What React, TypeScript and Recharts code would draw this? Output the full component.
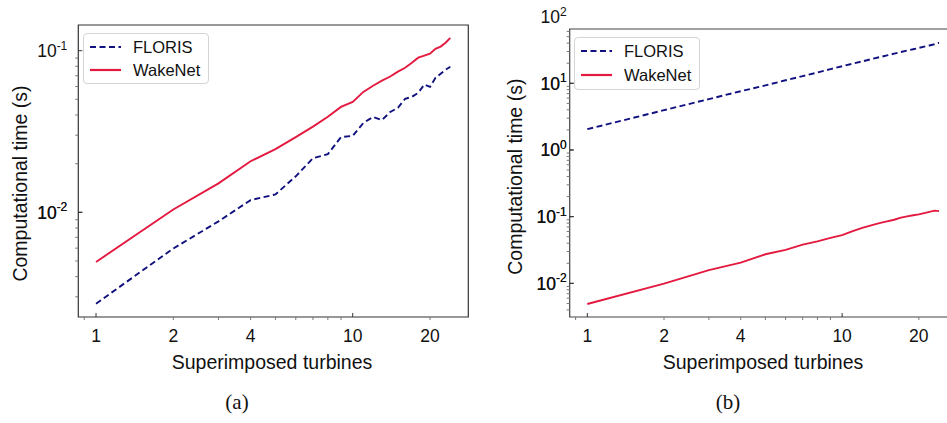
import { LineChart, Line, XAxis, YAxis, ReferenceArea, Legend } from 'recharts'

// number of superimposed turbines
const turbines = [1, 2, 3, 4, 5, 6, 7, 8, 9, 10, 11, 12, 13, 14, 15, 16, 17, 18, 19, 20, 21, 22, 23, 24]

// (a) computational time in seconds
const florisA = [0.00272, 0.00597, 0.00879, 0.0119, 0.0129, 0.0167, 0.0216, 0.0229, 0.0292, 0.0297, 0.0357, 0.0389, 0.0372, 0.0418, 0.0443, 0.0504, 0.0518, 0.0549, 0.0617, 0.0597, 0.0679, 0.072, 0.0762, 0.0795]
const wakenetA = [0.00493, 0.0104, 0.0151, 0.0207, 0.0246, 0.0292, 0.0339, 0.039, 0.0449, 0.0482, 0.0556, 0.0607, 0.0652, 0.0692, 0.0742, 0.0784, 0.0842, 0.0905, 0.0933, 0.0958, 0.1028, 0.106, 0.112, 0.12]

// (b) computational time in seconds
const florisB = [2.05, 3.95, 5.8, 7.6, 9.3, 11.1, 12.8, 14.5, 16.3, 18.0, 19.7, 21.3, 23.0, 24.6, 26.2, 27.8, 29.4, 31.0, 32.4, 33.9, 35.4, 36.9, 38.5, 40.5]
const wakenetB = [0.0049, 0.0099, 0.0158, 0.0205, 0.0273, 0.0318, 0.038, 0.0427, 0.048, 0.053, 0.0608, 0.068, 0.074, 0.08, 0.085, 0.09, 0.097, 0.101, 0.105, 0.108, 0.113, 0.118, 0.123, 0.121]

// ticks
const xLabels = [1, 2, 4, 10, 20]
const xMajor = [1, 10]
const xTicks = [0.9, 1, 2, 3, 4, 5, 6, 7, 8, 9, 10, 20]
const yMajorA = [0.01, 0.1]
const yMajorB = [0.01, 0.1, 1, 10, 100]

const SANS = '"Liberation Sans", Arial, sans-serif'
const SERIF = '"Liberation Serif", "DejaVu Serif", serif'
const FLORIS_COLOR = '#10107f'
const WAKENET_COLOR = '#e3193f'

const minorTicks = (decades: number[], lo: number, hi: number) => {
    const out: number[] = []
    decades.forEach(d => {
        for (let m = 1; m < 10; m++) {
            const v = +(d * m).toPrecision(3)
            if (v >= lo && v <= hi) out.push(v)
        }
    })
    return out
}

const dataA = turbines.map((n, i) => ({ n, floris: florisA[i], wakenet: wakenetA[i] }))
const dataB = turbines.map((n, i) => ({ n, floris: florisB[i], wakenet: wakenetB[i] }))

const XTick = ({ x, y, payload }: any) => {
    const v = payload.value
    const major = xMajor.includes(v)
    return (
        <g>
            {major
                ? <line x1={x} x2={x} y1={y} y2={y - 4} stroke="#333" strokeWidth={1} />
                : <line x1={x} x2={x} y1={y} y2={y + 3} stroke="#777" strokeWidth={1} />}
            {xLabels.includes(v) && (
                <text x={x} y={y + 24.5} textAnchor="middle" fontSize={17.5} fontFamily={SANS} fill="#111">{v}</text>
            )}
        </g>
    )
}

const YTick = ({ x, y, payload, majors, gap, top }: any) => {
    const v = payload.value
    const major = majors.includes(v)
    const exp = Math.round(Math.log10(v))
    const inFrame = v <= top
    return (
        <g>
            {inFrame && (major
                ? <line x1={x} x2={x + 4} y1={y} y2={y} stroke="#333" strokeWidth={1} />
                : <line x1={x - 3} x2={x} y1={y} y2={y} stroke="#777" strokeWidth={1} />)}
            {major && (
                <text x={x - gap} y={y + 6.5} textAnchor="end" fontSize={17.5} fontFamily={SANS} fill="#111">
                    10<tspan dy={-7.5} fontSize={12}>{exp}</tspan>
                </text>
            )}
        </g>
    )
}

const TitleY = ({ tx, ty }: any) => (
    <text x={tx} y={ty} transform={`rotate(-90, ${tx}, ${ty})`} textAnchor="middle" dominantBaseline="central"
        fontSize={19.5} fontFamily={SANS} fill="#111">Computational time (s)</text>
)

const TitleX = ({ tx, ty }: any) => (
    <text x={tx} y={ty} textAnchor="middle" fontSize={19.5} fontFamily={SANS} fill="#111">Superimposed turbines</text>
)

const LegendBox = ({ payload, gap }: any) => (
    <div style={{ border: '1px solid #d4d4d4', borderRadius: 4, background: '#fff', padding: '1px 8px 2px 6px', fontFamily: SANS }}>
        {(payload || []).map((entry: any) => (
            <div key={entry.value} style={{ display: 'flex', alignItems: 'center', height: gap }}>
                <svg width={31} height={4} style={{ display: 'block' }}>
                    <line x1={0} x2={31} y1={2} y2={2} stroke={entry.color} strokeWidth={2.2}
                        strokeDasharray={entry.payload?.strokeDasharray} />
                </svg>
                <span style={{ marginLeft: 12, fontSize: 16.5, color: '#111', lineHeight: '18px' }}>{entry.value}</span>
            </div>
        ))}
    </div>
)

const Caption = ({ left, text }: { left: number; text: string }) => (
    <div style={{ position: 'absolute', left: left - 30, width: 60, top: 390, textAlign: 'center', fontFamily: SERIF, fontSize: 21, color: '#111' }}>
        {text}
    </div>
)

export default function App() {
    const xDomA: [number, number] = [0.853, 28.2]
    const yDomA: [number, number] = [0.00225, 0.1442]
    const xDomB: [number, number] = [0.853, 26.5]
    const yDomB: [number, number] = [0.00313, 100]
    const frameTopB = 65.2

    return (
        <div style={{ position: 'absolute', left: 0, top: 0, width: 947, height: 423, overflow: 'hidden', background: '#fff' }}>
            <div style={{ position: 'absolute', left: 0, top: 0 }}>
                <LineChart width={470} height={423} data={dataA} margin={{ top: 25, right: 1.7, bottom: 0, left: 0 }}>
                    <XAxis dataKey="n" type="number" scale="log" domain={xDomA} allowDataOverflow ticks={xTicks} interval={0}
                        height={106} axisLine={false} tickLine={false} tickSize={0} tickMargin={0} tick={<XTick />}
                        label={<TitleX tx={272} ty={368.5} />} />
                    <YAxis type="number" scale="log" domain={yDomA} allowDataOverflow
                        ticks={[...minorTicks([0.001, 0.01], yDomA[0], yDomA[1]), ...yMajorA].sort((a, b) => a - b)} interval={0}
                        width={78.3} axisLine={false} tickLine={false} tickSize={0} tickMargin={0}
                        tick={<YTick majors={yMajorA} gap={11} top={yDomA[1]} />}
                        label={<TitleY tx={20} ty={183.5} />} />
                    <ReferenceArea x1={xDomA[0]} x2={xDomA[1]} y1={yDomA[0]} y2={yDomA[1]} fill="none" stroke="#333" strokeWidth={1.2} ifOverflow="visible" />
                    <Line dataKey="floris" name="FLORIS" type="linear" stroke={FLORIS_COLOR} strokeWidth={1.9} strokeDasharray="6 3.5" dot={false} isAnimationActive={false} />
                    <Line dataKey="wakenet" name="WakeNet" type="linear" stroke={WAKENET_COLOR} strokeWidth={1.9} dot={false} isAnimationActive={false} />
                    <Legend layout="horizontal" verticalAlign="middle" align="center" content={<LegendBox gap={23} />}
                        wrapperStyle={{ left: 83, top: 33, width: 'auto', height: 'auto' }} />
                </LineChart>
            </div>
            <Caption left={237} text="(a)" />

            <div style={{ position: 'absolute', left: 470, top: 0 }}>
                <LineChart width={480} height={423} data={dataB} margin={{ top: 16.6, right: 0, bottom: 0, left: 0 }}>
                    <XAxis dataKey="n" type="number" scale="log" domain={xDomB} allowDataOverflow ticks={xTicks} interval={0}
                        height={106} axisLine={false} tickLine={false} tickSize={0} tickMargin={0} tick={<XTick />}
                        label={<TitleX tx={293} ty={368.5} />} />
                    <YAxis type="number" scale="log" domain={yDomB} allowDataOverflow
                        ticks={[...minorTicks([0.001, 0.01, 0.1, 1, 10], 0.0035, frameTopB), ...yMajorB].sort((a, b) => a - b)} interval={0}
                        width={99.7} axisLine={false} tickLine={false} tickSize={0} tickMargin={0}
                        tick={<YTick majors={yMajorB} gap={3} top={frameTopB} />}
                        label={<TitleY tx={45} ty={176.7} />} />
                    <ReferenceArea x1={xDomB[0]} x2={xDomB[1]} y1={yDomB[0]} y2={frameTopB} fill="none" stroke="#444" strokeWidth={1.2} ifOverflow="visible" />
                    <Line dataKey="floris" name="FLORIS" type="linear" stroke={FLORIS_COLOR} strokeWidth={1.9} strokeDasharray="6 3.5" dot={false} isAnimationActive={false} />
                    <Line dataKey="wakenet" name="WakeNet" type="linear" stroke={WAKENET_COLOR} strokeWidth={1.9} dot={false} isAnimationActive={false} />
                    <Legend layout="horizontal" verticalAlign="middle" align="center" content={<LegendBox gap={24} />}
                        wrapperStyle={{ left: 104, top: 37, width: 'auto', height: 'auto' }} />
                </LineChart>
            </div>
            <Caption left={728} text="(b)" />
        </div>
    )
}
